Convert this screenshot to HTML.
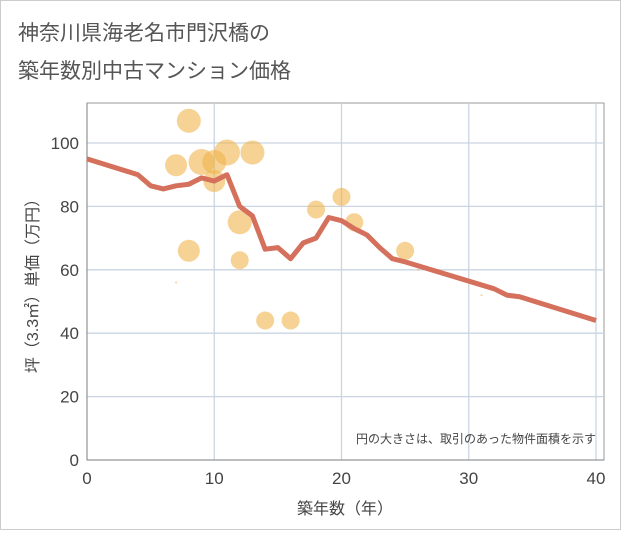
<!DOCTYPE html>
<html><head><meta charset="utf-8"><style>
body{margin:0;background:#fff;}
svg text{font-family:"Liberation Sans","Noto Sans CJK JP",sans-serif;}
</style></head><body>
<svg width="621" height="530" xmlns="http://www.w3.org/2000/svg">
<rect x="0.5" y="0.5" width="620" height="529" fill="#fff" stroke="#ccc"/>
<text x="18" y="40" font-size="21" fill="#555">神奈川県海老名市門沢橋の</text>
<text x="18" y="78" font-size="21" fill="#555">築年数別中古マンション価格</text>
<g id="grid"></g>
<g id="bubbles"></g>
<path id="line" fill="none" stroke="#d4705c" stroke-width="5" stroke-linejoin="round"/>
<g id="ticks"></g>
<text x="596" y="443" font-size="12" fill="#444" text-anchor="end">円の大きさは、取引のあった物件面積を示す</text>
<text x="345" y="514" font-size="16" fill="#444" text-anchor="middle">築年数（年）</text>
<text transform="translate(38,282) rotate(-90)" font-size="16" fill="#444" text-anchor="middle">坪（3.3㎡）単価（万円）</text>
</svg>
<script>
const xTicks=[0,10,20,30,40];
const yTicks=[0,20,40,60,80,100];
const bubbleX=[8,7,9,10,10,11,13,8,12,12,14,16,18,20,21,25,7,26,31];
const bubbleY=[107,93,94,94,88,97,97,66,75,63,44,44,79,83,75,66,56,60,52];
const bubbleR=[12,11,13,12,11,13,12,11,12,9,9,9,9,9,9,9,1,1,1];
const lineX=[0,4,5,6,7,8,9,10,11,12,13,14,15,16,17,18,19,20,21,22,23,24,25,32,33,34,40];
const lineY=[95,90,86.5,85.5,86.5,87,89,88,90,80,77,66.5,67,63.5,68.5,70,76.5,75.5,73,71,67,63.5,62.5,54,52,51.5,44];
const L=87,R=596,T=103,B=460,PR=604;
const sx=v=>L+(R-L)*v/40, sy=v=>B-(B-143)*v/100;
const ns='http://www.w3.org/2000/svg';
function mk(t,a,p){const e=document.createElementNS(ns,t);for(const k in a)e.setAttribute(k,a[k]);p.appendChild(e);return e;}
const g=document.getElementById('grid'),tk=document.getElementById('ticks');
mk('rect',{x:L,y:T,width:PR-L,height:B-T,fill:'none',stroke:'#999'},g);
yTicks.forEach(v=>{const l=mk('line',{x1:L,x2:PR,y1:sy(v),y2:sy(v),stroke:'#c9d5e2','stroke-width':1.3},g);

const t=mk('text',{x:L-8,y:sy(v)+6,'font-size':17,fill:'#444','text-anchor':'end'},tk);t.textContent=v;
});
xTicks.forEach(v=>{const l=mk('line',{x1:sx(v),x2:sx(v),y1:T,y2:B,stroke:'#c9d5e2','stroke-width':1.3},g);

const t=mk('text',{x:sx(v),y:B+24,'font-size':17,fill:'#444','text-anchor':'middle'},tk);t.textContent=v;
});
mk('line',{x1:L,x2:L,y1:T,y2:B,stroke:'#888'},g);mk('line',{x1:L,x2:PR,y1:B,y2:B,stroke:'#888'},g);
const bg=document.getElementById('bubbles');
bubbleX.forEach((x,i)=>{const c=mk('circle',{cx:sx(x),cy:sy(bubbleY[i]),r:bubbleR[i],fill:'#f0b44c','fill-opacity':0.6},bg);
});
document.getElementById('line').setAttribute('d',lineX.map((x,i)=>(i?'L':'M')+sx(x)+','+sy(lineY[i])).join(''));
</script>
</body></html>
